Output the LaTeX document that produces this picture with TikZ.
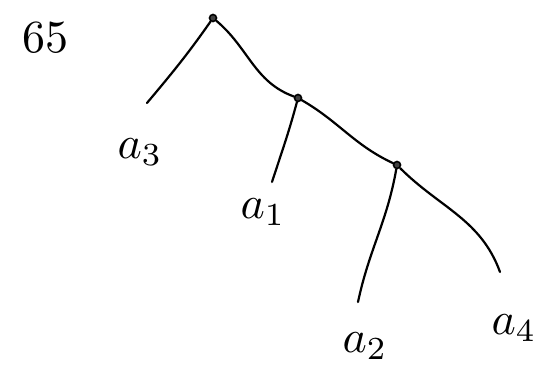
\documentclass[tikz,border=0pt]{standalone}
\usepackage{graphicx}
\begin{document}
\begin{tikzpicture}[x=1pt,y=-1pt,
  dot/.style={circle,draw=black,line width=1.6pt,fill=darkgray,inner sep=0pt,minimum size=7pt},
  edge/.style={line width=2.2pt,line cap=round},
  lab/.style={inner sep=0pt}]
\useasboundingbox (0,0) rectangle (546,379);
\node[dot] (r) at (213,18) {};
\node[dot] (m) at (298,98) {};
\node[dot] (k) at (397,165) {};
\coordinate (e3) at (147,103);
\coordinate (e1) at (272,182);
\coordinate (e2) at (358,302);
\coordinate (e4) at (500,272);
\draw[edge] (r) to[out=-125,in=50] (e3);
\draw[edge] (r) to[out=-40,in=160] (m);
\draw[edge] (m) to[out=-105,in=72] (e1);
\draw[edge] (m) to[out=-30,in=155] (k);
\draw[edge] (k) to[out=-100,in=78] (e2);
\draw[edge] (k) to[out=-45,in=110] (e4);
\node[lab] (a3) at (140,152) {\scalebox{4.6}{$a_3$}};
\node[lab] (a1) at (263,212) {\scalebox{4.6}{$a_1$}};
\node[lab] (a2) at (365,346) {\scalebox{4.6}{$a_2$}};
\node[lab] (a4) at (514,328) {\scalebox{4.6}{$a_4$}};
\node[lab] (t) at (45,38) {\scalebox{4.6}{$65$}};
\end{tikzpicture}
\end{document}
